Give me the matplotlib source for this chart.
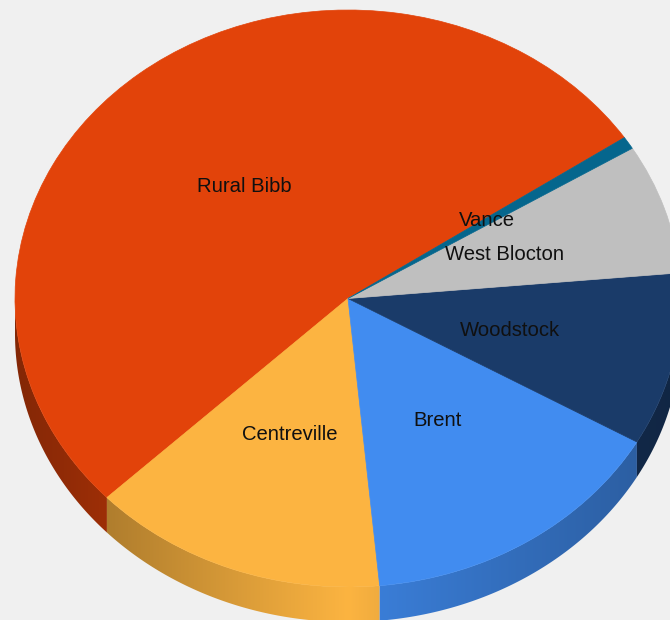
import numpy as np
import matplotlib
matplotlib.use("Agg")
import matplotlib.pyplot as plt
from matplotlib.patches import Wedge, Polygon
from matplotlib.transforms import Affine2D

# slices in drawing order, counter clockwise from the start angle
names = ["Rural Bibb", "Centreville", "Brent", "Woodstock", "West Blocton", "Vance"]
shares = [52.7, 14.4, 15.2, 9.7, 7.3, 0.7]
colors = ["#E2430A", "#FCB441", "#418CF0", "#1A3B69", "#BFBFBF", "#05668D"]

start_angle = 33.9
cx, cy = 348, 321.5
rx, ry = 333, 288.5
depth = 35

plt.rcParams["font.family"] = ["Liberation Sans", "DejaVu Sans"]
fig = plt.figure(figsize=(6.7, 6.2), dpi=100, facecolor="#F0F0F0")
ax = fig.add_axes([0, 0, 1, 1])

sweeps = np.array(shares) / sum(shares) * 360
edges = start_angle + np.concatenate([[0], np.cumsum(sweeps)])


def shade(x):
    # side wall is brightest just under the centre, darker to both sides
    d = (x - cx) / rx
    out = np.where(d < 0, 1.0 - 0.42 * np.abs(d), 1.0 - 0.5 * d)
    return np.where(x >= cx + rx * np.cos(np.radians(edges[2])), 0.92 - 0.28 * d, out)


# side wall first, only the front half of the ellipse shows
columns = np.arange(670) + 0.5
for i in range(len(names)):
    a0 = max(edges[i], 180)
    a1 = min(edges[i + 1], 360)
    if a1 <= a0:
        continue
    base = np.array(matplotlib.colors.to_rgb(colors[i]))
    grad = np.outer(shade(columns), base)[np.newaxis, :, :]
    im = ax.imshow(grad, extent=(0, 670, 0, 620), aspect="auto", origin="lower",
                   interpolation="nearest", zorder=1)
    t = np.radians(np.linspace(a0, a1, 200))
    xs = cx + rx * np.cos(t)
    ys = cy + ry * np.sin(t)
    outline = np.column_stack([np.r_[xs, xs[::-1]], np.r_[ys, ys[::-1] - depth]])
    im.set_clip_path(Polygon(outline, closed=True, transform=ax.transData))

ax.set_xlim(0, 670)
ax.set_ylim(0, 620)
ax.axis("off")

# top face
squash = Affine2D().scale(1, ry / rx).translate(cx, cy) + ax.transData
for i in range(len(names)):
    ax.add_patch(Wedge((0, 0), rx, edges[i], edges[i + 1], facecolor=colors[i],
                       edgecolor=colors[i], lw=0.5, transform=squash, zorder=2))

# labels, same order as names
label_x = [244, 290, 438, 510, 505, 487]
label_y = [434, 185, 200, 290, 366, 399]
for n, lx, ly in zip(names, label_x, label_y):
    ax.text(lx, ly, n, ha="center", va="center", fontsize=14.6, color="#101010", zorder=3)

fig.savefig("out.png", dpi=100, facecolor=fig.get_facecolor())
